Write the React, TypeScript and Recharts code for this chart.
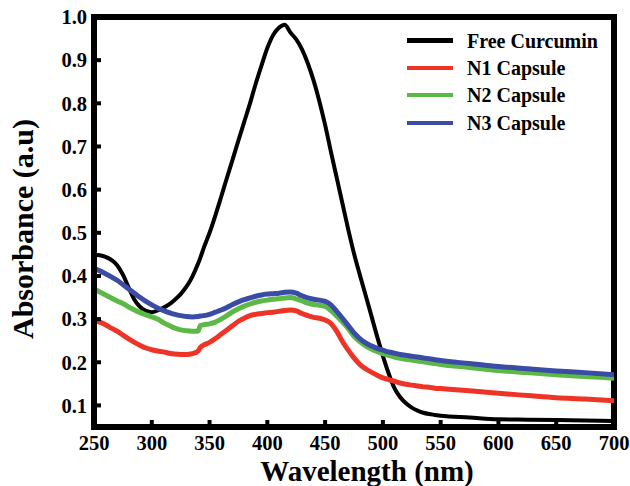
import React from "react";
import {
  LineChart,
  Line,
  XAxis,
  YAxis,
  ReferenceLine,
  Legend,
} from "recharts";

// wavelength grid (nm)
const wavelengths = [
  250, 255, 260, 265, 270, 275, 280, 285, 290, 295, 300, 305, 310, 315, 320, 325, 330, 335, 340, 342,
  345, 350, 355, 360, 365, 370, 375, 380, 385, 390, 395, 400, 405, 410, 415, 420, 425, 430, 435, 440,
  445, 450, 455, 460, 465, 470, 475, 480, 485, 490, 495, 500, 505, 510, 515, 520, 525, 530, 535, 540,
  545, 550, 575, 600, 625, 650, 675, 700,
];

const freeCurcumin = [
  0.45, 0.448, 0.444, 0.437, 0.425, 0.403, 0.373, 0.345, 0.328, 0.319, 0.316, 0.32, 0.326, 0.334, 0.345, 0.358, 0.375, 0.398, 0.428, 0.442,
  0.465, 0.5, 0.54, 0.583, 0.627, 0.67, 0.714, 0.757, 0.8, 0.846, 0.888, 0.928, 0.958, 0.975, 0.982, 0.964, 0.948, 0.925, 0.893, 0.853,
  0.805, 0.75, 0.688, 0.628, 0.568, 0.508, 0.452, 0.403, 0.356, 0.308, 0.26, 0.215, 0.174, 0.14, 0.119, 0.105, 0.095, 0.088, 0.083, 0.08,
  0.078, 0.076, 0.072, 0.068, 0.067, 0.066, 0.065, 0.064,
];

const n1Capsule = [
  0.297, 0.293, 0.287, 0.279, 0.272, 0.263, 0.254, 0.246, 0.239, 0.233, 0.229, 0.226, 0.224, 0.221, 0.219, 0.218, 0.218, 0.22, 0.226, 0.234,
  0.24, 0.246, 0.255, 0.265, 0.275, 0.285, 0.295, 0.302, 0.308, 0.311, 0.313, 0.315, 0.316, 0.318, 0.32, 0.321, 0.319, 0.313, 0.308, 0.304,
  0.302, 0.298, 0.29, 0.272, 0.248, 0.228, 0.21, 0.195, 0.185, 0.177, 0.17, 0.164, 0.16, 0.156, 0.152, 0.149, 0.147, 0.145, 0.143, 0.142,
  0.14, 0.139, 0.134, 0.128, 0.123, 0.118, 0.115, 0.111,
];

const n2Capsule = [
  0.37, 0.363, 0.356, 0.349, 0.342, 0.336, 0.328, 0.321, 0.315, 0.31, 0.305, 0.3, 0.292, 0.285, 0.279, 0.275, 0.273, 0.272, 0.272, 0.285,
  0.287, 0.289, 0.293, 0.3, 0.308, 0.317, 0.324, 0.33, 0.335, 0.339, 0.342, 0.344, 0.346, 0.347, 0.349, 0.35, 0.347, 0.342, 0.337, 0.334,
  0.332, 0.329, 0.32, 0.307, 0.293, 0.278, 0.26, 0.248, 0.238, 0.231, 0.225, 0.22, 0.216, 0.212, 0.209, 0.207, 0.205, 0.203, 0.201, 0.199,
  0.197, 0.195, 0.188, 0.181, 0.176, 0.171, 0.167, 0.163,
];

const n3Capsule = [
  0.418, 0.412, 0.405, 0.398, 0.39, 0.38, 0.37, 0.36, 0.35, 0.341, 0.333, 0.326, 0.32, 0.315, 0.311, 0.308, 0.306, 0.305, 0.306, 0.307,
  0.308, 0.311, 0.316, 0.321, 0.327, 0.334, 0.34, 0.345, 0.349, 0.353, 0.356, 0.358, 0.359, 0.36, 0.362, 0.363, 0.36, 0.354, 0.349, 0.346,
  0.344, 0.341, 0.333, 0.318, 0.302, 0.285, 0.268, 0.255, 0.245, 0.238, 0.232, 0.228, 0.224, 0.221, 0.218, 0.216, 0.214, 0.212, 0.21, 0.208,
  0.206, 0.204, 0.197, 0.19, 0.185, 0.18, 0.176, 0.171,
];

const xTicks = [250, 300, 350, 400, 450, 500, 550, 600, 650, 700];
const yTicks = [0.1, 0.2, 0.3, 0.4, 0.5, 0.6, 0.7, 0.8, 0.9, 1.0];

const series = [
  { key: "free", label: "Free Curcumin", color: "#000000", width: 4 },
  { key: "n1", label: "N1 Capsule", color: "#EE3427", width: 5 },
  { key: "n2", label: "N2 Capsule", color: "#5CB946", width: 5 },
  { key: "n3", label: "N3 Capsule", color: "#3A4CA6", width: 5 },
];

const data = wavelengths.map((wl, i) => ({
  wl,
  free: freeCurcumin[i],
  n1: n1Capsule[i],
  n2: n2Capsule[i],
  n3: n3Capsule[i],
}));

const FONT = "'Liberation Serif', 'Times New Roman', serif";
const tickStyle = { fontSize: 20.5, fontWeight: 700, fill: "#000", fontFamily: FONT };
const axisLineStyle = { stroke: "#000", strokeWidth: 6, strokeLinecap: "square" as const };

function LegendBox() {
  return (
    <div style={{ fontFamily: FONT, fontWeight: 700, fontSize: 20, color: "#000" }}>
      {series.map((s) => (
        <div key={s.key} style={{ display: "flex", alignItems: "center", height: 27.4 }}>
          <span
            style={{
              display: "inline-block",
              width: 46,
              height: s.key === "free" ? 5 : 4,
              background: s.color,
              marginRight: 14,
            }}
          />
          <span style={{ lineHeight: "20px" }}>{s.label}</span>
        </div>
      ))}
    </div>
  );
}

// eslint-disable-next-line @typescript-eslint/no-explicit-any
function YTitle(props: any) {
  const vb = props.viewBox || { x: 0, y: 17, width: 94, height: 410 };
  const cx = 33;
  const cy = vb.y + vb.height / 2 + 7;
  return (
    <text
      x={cx}
      y={cy}
      transform={`rotate(-90 ${cx} ${cy})`}
      textAnchor="middle"
      style={{ fontFamily: FONT, fontWeight: 700, fontSize: 30, fill: "#000" }}
    >
      Absorbance (a.u)
    </text>
  );
}

// eslint-disable-next-line @typescript-eslint/no-explicit-any
function XTitle(props: any) {
  const vb = props.viewBox || { x: 94, y: 427, width: 520, height: 59 };
  return (
    <text
      x={vb.x + vb.width / 2 + 13}
      y={481}
      textAnchor="middle"
      style={{ fontFamily: FONT, fontWeight: 700, fontSize: 29, fill: "#000" }}
    >
      Wavelength (nm)
    </text>
  );
}

export default function App() {
  return (
    <div style={{ position: "absolute", left: 0, top: 0, width: 630, height: 486, background: "#fff", fontFamily: FONT }}>
      <LineChart width={630} height={486} data={data} margin={{ top: 17, right: 16, bottom: 0, left: 0 }}>
        <XAxis
          dataKey="wl"
          type="number"
          domain={[250, 700]}
          ticks={xTicks}
          interval={0}
          allowDataOverflow
          height={59}
          tick={tickStyle}
          tickSize={-7}
          tickMargin={15}
          tickLine={{ stroke: "#000", strokeWidth: 4 }}
          axisLine={axisLineStyle}
          label={{ content: <XTitle /> }}
        />
        <YAxis
          type="number"
          domain={[0.05, 1.0]}
          ticks={yTicks}
          interval={0}
          allowDataOverflow
          width={94}
          tick={tickStyle}
          tickFormatter={(v: number) => v.toFixed(1)}
          tickSize={-7}
          tickMargin={14}
          tickLine={{ stroke: "#000", strokeWidth: 4 }}
          axisLine={axisLineStyle}
          label={{ content: <YTitle /> }}
        />
        <ReferenceLine y={1.0} stroke="#000" strokeWidth={6} strokeLinecap="square" />
        <ReferenceLine x={700} stroke="#000" strokeWidth={6} strokeLinecap="square" />
        {series.map((s) => (
          <Line
            key={s.key}
            type="monotone"
            dataKey={s.key}
            name={s.label}
            stroke={s.color}
            strokeWidth={s.width}
            dot={false}
            activeDot={false}
            isAnimationActive={false}
          />
        ))}
        <Legend
          layout="vertical"
          align="center"
          verticalAlign="middle"
          content={<LegendBox />}
          wrapperStyle={{ position: "absolute", left: 407, top: 27, width: 200, height: 115 }}
        />
      </LineChart>
    </div>
  );
}
